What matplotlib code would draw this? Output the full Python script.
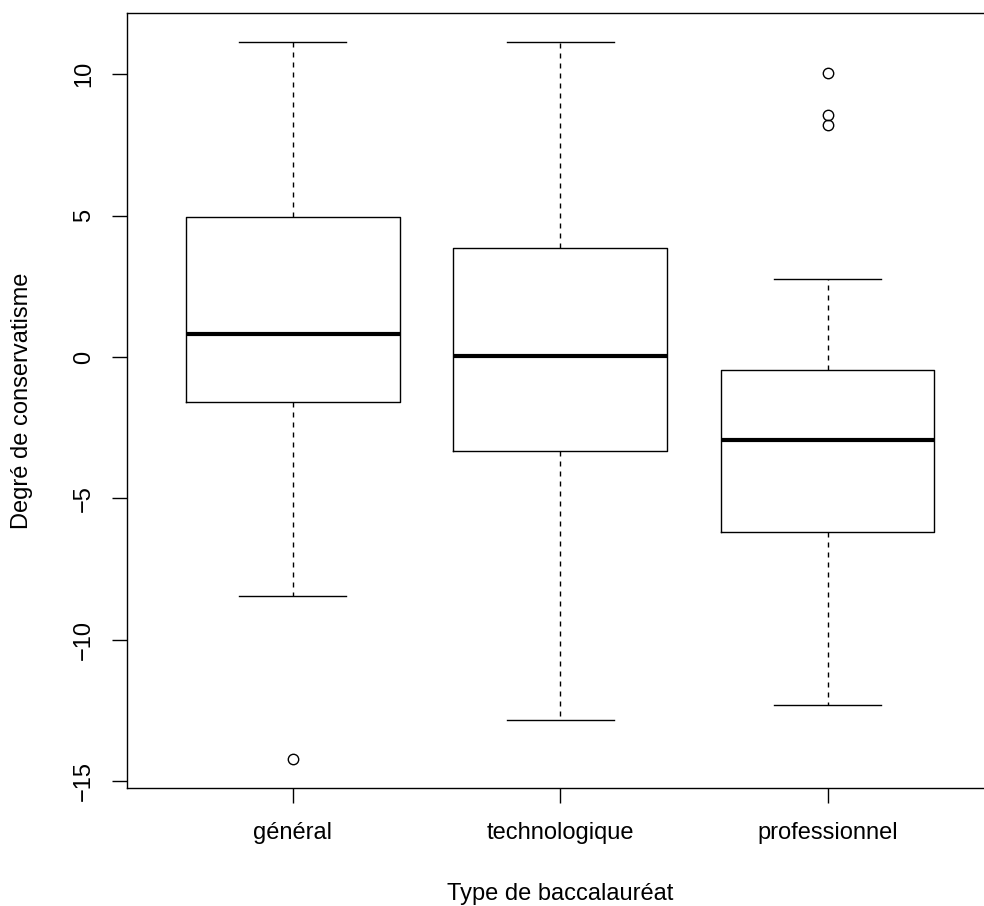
import matplotlib
matplotlib.use("Agg")
import matplotlib.pyplot as plt

categories = ["général", "technologique", "professionnel"]
whislo = [-8.44, -12.86, -12.33]
q1 = [-1.60, -3.33, -6.19]
med = [0.83, 0.02, -2.95]
q3 = [4.96, 3.87, -0.45]
whishi = [11.15, 11.15, 2.76]
fliers = [[-14.23], [], [10.04, 8.55, 8.2]]
yticks = [-15, -10, -5, 0, 5, 10]
xlabel = "Type de baccalauréat"
ylabel = "Degré de conservatisme"

plt.rcParams['font.family'] = ['Liberation Sans', 'DejaVu Sans']
FS = 17

W, H = 984, 906
fig = plt.figure(figsize=(W / 100, H / 100), dpi=100)
left_px, right_px, top_px, bot_px = 126.9, 993.3, 13, 788
ax = fig.add_axes([left_px / W, (H - bot_px) / H, (right_px - left_px) / W, (bot_px - top_px) / H])

stats = []
for i, c in enumerate(categories):
    stats.append(dict(label=c, whislo=whislo[i], q1=q1[i], med=med[i], q3=q3[i],
                      whishi=whishi[i], fliers=fliers[i]))

ax.bxp(stats, positions=[1, 2, 3], widths=0.8, capwidths=0.4, showfliers=True,
       boxprops=dict(color='black', linewidth=1.0),
       whiskerprops=dict(color='black', linewidth=1.0, linestyle=(0, (3.6, 3.6))),
       capprops=dict(color='black', linewidth=1.0),
       medianprops=dict(color='black', linewidth=3.0, solid_capstyle='butt'),
       flierprops=dict(marker='o', markerfacecolor='none', markeredgecolor='black',
                       markersize=7.5, markeredgewidth=1.0, linestyle='none'))

ax.set_xlim(0.38, 3.62)
ax.set_ylim(-15.25, 12.17)
ax.set_yticks(yticks)
ax.set_yticklabels([str(v).replace('-', '\u2212') for v in yticks], rotation=90, va='center', fontsize=FS)
ax.set_xticks([1, 2, 3])
ax.set_xticklabels(categories, fontsize=FS)
ax.tick_params(axis='both', length=10.8, width=1.0, color='black')
ax.tick_params(axis='y', pad=12)
ax.tick_params(axis='x', pad=13.5)
for s in ax.spines.values():
    s.set_linewidth(1.0)
    s.set_color('black')

fig.text(560 / W, 1 - 894 / H, xlabel, ha='center', va='center', fontsize=FS)
fig.text(22 / W, 1 - 401 / H, ylabel, ha='center', va='center', rotation=90, fontsize=FS)

fig.savefig("out.png", dpi=100)
